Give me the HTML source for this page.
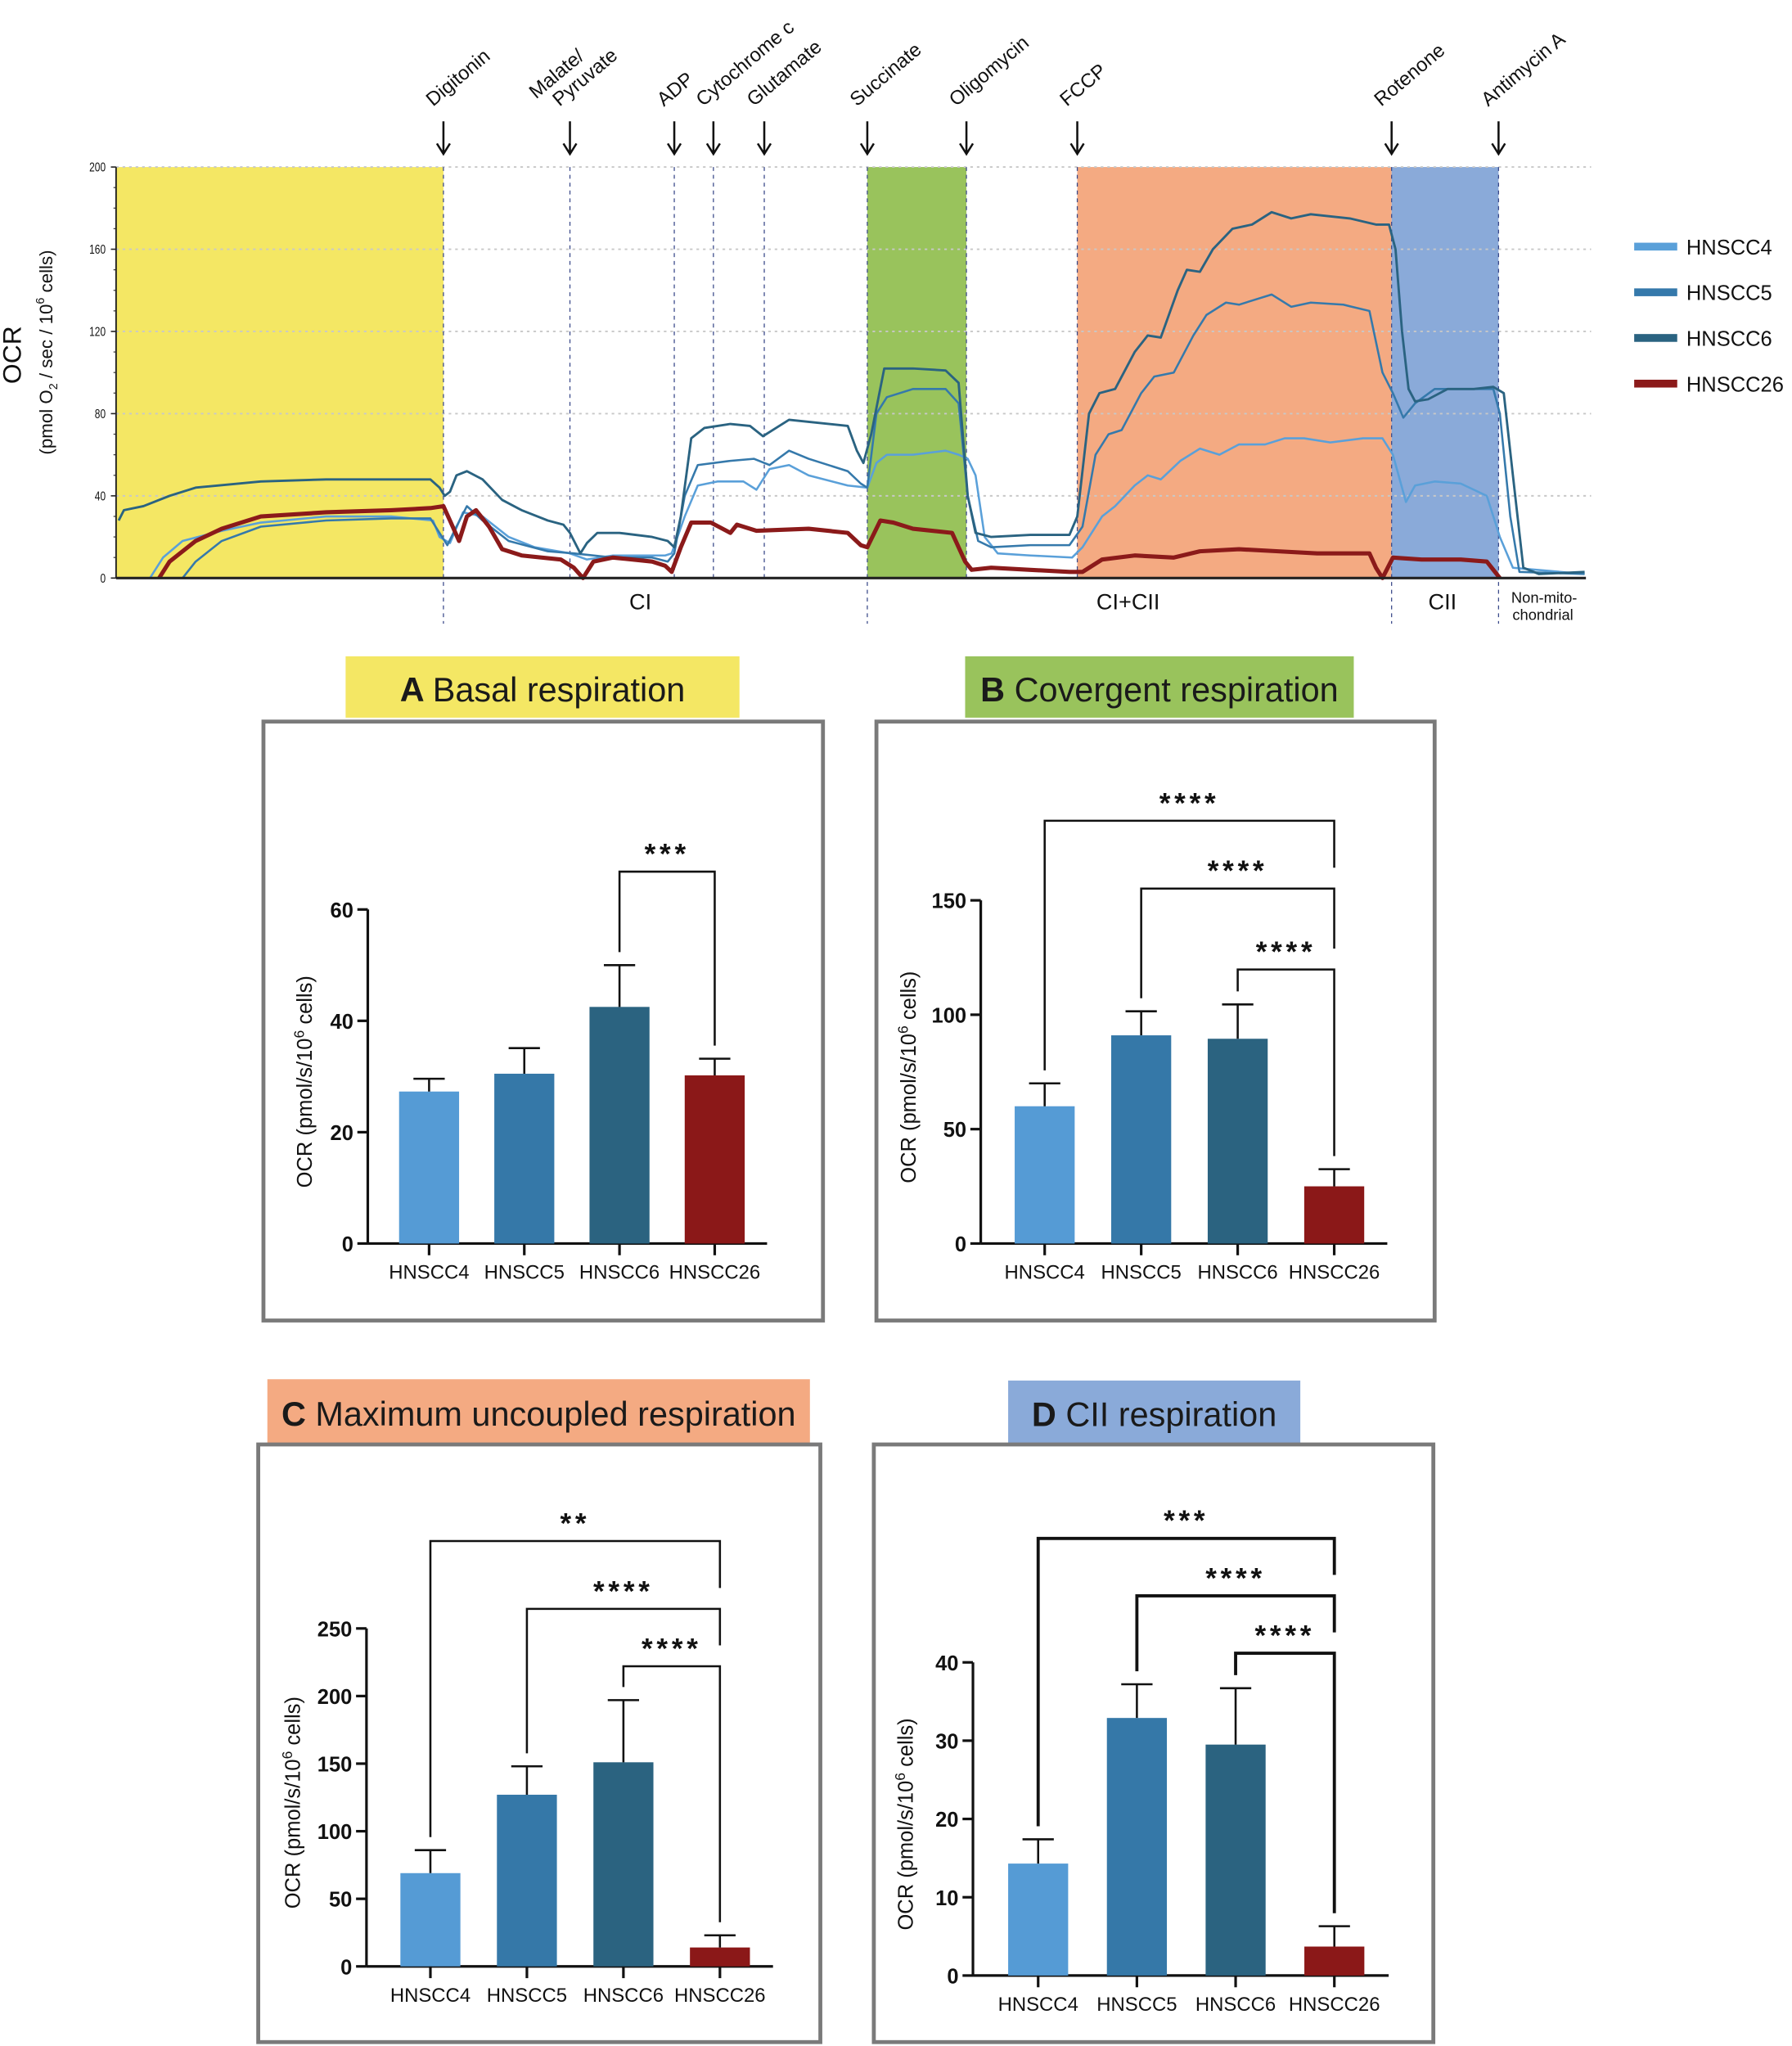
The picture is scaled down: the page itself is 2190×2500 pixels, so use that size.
<!DOCTYPE html>
<html><head><meta charset="utf-8">
<style>
html,body{margin:0;padding:0;background:#fff;}
svg{display:block;}
text{font-family:"Liberation Sans",sans-serif;}
</style></head>
<body>
<svg id="root" xmlns="http://www.w3.org/2000/svg" width="2190" height="2500" viewBox="0 0 1374 1568" preserveAspectRatio="none">
<g id="topchart"></g>
<g id="panels"></g>
</svg>
<script>
// ---------- TOP TRACE DATA ----------
const traceNames = ["HNSCC4","HNSCC5","HNSCC6","HNSCC26"];
const yTicksTop = [0,40,80,120,160,200];
const eventNames = ["Digitonin","Malate/\nPyruvate","ADP","Cytochrome c","Glutamate","Succinate","Oligomycin","FCCP","Rotenone","Antimycin A"];
const eventTimes = [340,437,517,547,586,665,741,826,1067,1149];
const bandStarts = [89,665,826,1067];
const bandEnds = [340,741,1067,1149];
const regionLabels = ["CI","CI+CII","CII"];
const regionTimes = [491,865,1106];

const t6 = [91,95,110,130,150,200,250,300,330,337,341,345,350,358,370,385,400,420,432,437,445,450,458,475,500,512,517,522,530,540,560,575,585,595,605,620,650,657,662,668,678,700,725,735,742,748,760,790,820,826,835,843,855,870,880,890,903,910,920,930,945,960,975,990,1005,1035,1055,1065,1070,1075,1080,1085,1095,1110,1130,1145,1153,1160,1168,1180,1215];
const v6 = [28,33,35,40,44,47,48,48,48,44,40,42,50,52,48,38,33,28,26,22,12,17,22,22,20,18,15,30,68,73,75,74,69,73,77,76,74,62,56,70,102,102,101,95,40,22,20,21,21,30,80,90,92,110,118,117,140,150,149,160,170,172,178,175,177,175,172,172,160,120,92,86,87,92,92,93,90,50,5,2,3];
const t5 = [140,150,170,200,250,300,330,337,343,350,358,370,390,420,440,470,500,512,517,525,535,560,578,590,605,620,650,660,665,672,680,700,725,735,742,750,760,790,820,830,840,850,860,875,885,900,915,925,940,950,965,975,990,1005,1030,1050,1060,1068,1076,1085,1100,1130,1145,1150,1158,1165,1215];
const v5 = [0,8,18,25,28,29,29,22,16,25,35,28,18,13,12,10,10,8,12,40,55,57,58,55,62,58,52,46,44,80,88,92,92,85,40,18,15,16,16,25,60,70,72,90,98,100,118,128,134,133,136,138,132,134,133,130,100,90,78,85,92,92,92,80,30,3,2];
const t4 = [115,125,140,170,200,250,300,332,337,345,355,370,390,410,437,450,470,510,515,525,535,550,570,580,590,605,620,650,665,672,680,700,725,735,742,748,755,765,790,822,830,845,855,870,880,890,905,920,935,950,970,985,1000,1020,1045,1060,1068,1078,1085,1100,1120,1140,1150,1160,1215];
const v4 = [0,10,18,23,27,30,30,28,20,17,32,30,20,15,12,9,11,11,12,30,45,47,47,43,53,55,50,45,44,56,60,60,62,60,58,50,20,12,11,10,15,30,35,45,50,48,57,63,60,65,65,68,68,66,68,68,60,37,45,47,46,40,20,5,2];
const t26 = [122,130,150,170,200,250,300,330,340,345,352,358,365,375,385,400,430,440,447,455,470,500,510,515,522,530,545,560,565,580,620,650,660,665,675,685,700,730,740,745,760,790,820,830,845,870,900,920,950,980,1010,1050,1055,1060,1068,1090,1120,1140,1145,1150];
const v26 = [0,8,18,24,30,32,33,34,35,28,18,30,33,25,14,11,9,5,0,8,10,8,6,3,15,27,27,22,26,23,24,22,16,15,28,27,24,22,8,4,5,4,3,3,9,11,10,13,14,13,12,12,5,0,10,9,9,8,4,0];

// ---------- BAR DATA ----------
const barCategories = ["HNSCC4","HNSCC5","HNSCC6","HNSCC26"];
const basalMean = [27.3,30.5,42.5,30.2];
const basalErr = [2.3,4.6,7.5,3.0];
const basalTicks = [0,20,40,60];
const basalSig = [[2,3,"***"]];
const convMean = [60,91,89.5,25];
const convErr = [10,10.5,15,7.5];
const convTicks = [0,50,100,150];
const convSig = [[0,3,"****"],[1,3,"****"],[2,3,"****"]];
const maxMean = [69,127,151,14];
const maxErr = [17,21,46,9];
const maxTicks = [0,50,100,150,200,250];
const maxSig = [[0,3,"**"],[1,3,"****"],[2,3,"****"]];
const ciiMean = [14.3,32.9,29.5,3.7];
const ciiErr = [3.1,4.3,7.2,2.6];
const ciiTicks = [0,10,20,30,40];
const ciiSig = [[0,3,"***"],[1,3,"****"],[2,3,"****"]];

const NS = "http://www.w3.org/2000/svg";
function mk(parent, tag, attrs, txt){
  const e = document.createElementNS(NS, tag);
  for (const k in attrs) e.setAttribute(k, attrs[k]);
  if (txt !== undefined) e.textContent = txt;
  parent.appendChild(e);
  return e;
}
const traceColors = ["#5aa0d9","#3579ab","#2a6381","#8b1a1a"];
const barColors = ["#559bd5","#3578a8","#2b6380","#8b1818"];

// ---------- TOP CHART ----------
const topG = document.getElementById('topchart');
const X0 = 89, X1 = 1216, Y0 = 443, Y1 = 128;
const xT = t => X0 + (t - 89) * (X1 - X0) / (1216 - 89);
const yT = v => Y0 - v * (Y0 - Y1) / 200;

bandStarts.forEach((s,i)=>{
  const fills = ["#f4e764","#99c35c","#f4aa82","#8aaad9"];
  const r = mk(topG,'rect',{x:xT(s),y:yT(200),width:xT(bandEnds[i])-xT(s),height:yT(0)-yT(200),fill:fills[i]});
  
  
});
yTicksTop.forEach(v=>{
  if (v>0){
    const g = mk(topG,'line',{x1:X0,x2:1220,y1:yT(v),y2:yT(v),stroke:"#c8c8c8","stroke-width":1.2,"stroke-dasharray":"2,3"});
    
    
  }
  const l = mk(topG,'text',{x:X0-8,y:yT(v)+3.5,"font-size":10,"text-anchor":"end",fill:"#111",transform:`translate(${X0-8},0) scale(0.75,1) translate(${-(X0-8)},0)`}, String(v));
  
  
  mk(topG,'line',{x1:X0-4,x2:X0,y1:yT(v),y2:yT(v),stroke:"#222","stroke-width":1});
});
for (let v=10; v<200; v+=10){ if (v%40) mk(topG,'line',{x1:X0-2,x2:X0,y1:yT(v),y2:yT(v),stroke:"#444","stroke-width":0.8}); }
mk(topG,'line',{x1:X0,x2:X0,y1:yT(200),y2:yT(0),stroke:"#222","stroke-width":1.2});

eventTimes.forEach((t,i)=>{
  const x = xT(t);
  const long = [0,5,8,9].includes(i);
  const d = mk(topG,'line',{x1:x,x2:x,y1:yT(200),y2:long?478:yT(0),stroke:"#3b4a8a","stroke-width":0.8,"stroke-dasharray":"3,3"});
  
  
  const a = mk(topG,'path',{d:`M${x},93 L${x},117 M${x-5},110 L${x},118 L${x+5},110`,stroke:"#111","stroke-width":1.6,fill:"none"});
  
  
  const lines = eventNames[i].split("\n");
  const tx = mk(topG,'text',{"font-size":15,fill:"#111",transform:`translate(${x-8},82) rotate(-40)`});
  
  
  lines.forEach((ln,j)=>{ mk(tx,'tspan',{x: 0, dy: j?16:-(lines.length-1)*16}, ln); });
  if (lines.length>1){ tx.firstChild.setAttribute('x',-10); tx.lastChild.setAttribute('x',0); }
});

[[0,traceColors[0],1.6],[1,traceColors[1],1.6],[2,traceColors[2],1.8],[3,traceColors[3],3.2]].forEach(([k,c,w])=>{
  const ts=[t4,t5,t6,t26][k], vs=[v4,v5,v6,v26][k];
  const d = ts.map((t,i)=>(i?'L':'M')+xT(t).toFixed(1)+','+yT(vs[i]).toFixed(1)).join(' ');
  const p = mk(topG,'path',{d:d,fill:"none",stroke:c,"stroke-width":w,"stroke-linejoin":"round"});
  
  
});
mk(topG,'line',{x1:X0,x2:X1,y1:yT(0),y2:yT(0),stroke:"#222","stroke-width":2});

regionLabels.forEach((r,i)=>{
  const t = mk(topG,'text',{x:xT(regionTimes[i]),y:467,"font-size":17,"text-anchor":"middle",fill:"#111"}, r);
  
  
});
const nm = mk(topG,'text',{x:1183,y:462,"font-size":11.5,"text-anchor":"middle",fill:"#111"});


mk(nm,'tspan',{x:1184,dy:0},"Non-mito-");
mk(nm,'tspan',{x:1183,dy:13},"chondrial");

const yt = mk(topG,'text',{"font-size":20,"text-anchor":"middle",fill:"#111",transform:"translate(16,272) rotate(-90)"},"OCR");


const ys = mk(topG,'text',{"font-size":14,"text-anchor":"middle",fill:"#111",transform:"translate(40,270) rotate(-90)"});


mk(ys,'tspan',{},"(pmol O");
mk(ys,'tspan',{"font-size":9,dy:4},"2");
mk(ys,'tspan',{dy:-4}," / sec / 10");
mk(ys,'tspan',{"font-size":9,dy:-6},"6");
mk(ys,'tspan',{dy:6}," cells)");

traceNames.forEach((n,i)=>{
  const y = 189 + i*35;
  const g = mk(topG,'g',{});
  
  
  mk(g,'rect',{x:1253,y:y-3,width:33,height:6,fill:traceColors[i]});
  mk(g,'text',{x:1293,y:y+6,"font-size":16,fill:"#111"},n);
});

// ---------- BAR PANELS ----------
const panels = document.getElementById('panels');
function panel(o){
  const g = mk(panels,'g',{});
  
  
  const tb = mk(g,'rect',{x:o.tx,y:o.ty,width:o.tw,height:o.th,fill:o.tc});
  
  
  const tt = mk(g,'text',{x:o.tx+o.tw/2,y:o.ty+o.th/2+11,"font-size":26,"text-anchor":"middle",fill:"#1a1a1a"});
  
  
  mk(tt,'tspan',{"font-weight":"bold"},o.letter+" ");
  mk(tt,'tspan',{},o.title);
  const bx = mk(g,'rect',{x:o.bx,y:o.by,width:o.bw,height:o.bh,fill:"none",stroke:"#7a7a7a","stroke-width":3});
  
  
  const ymax = o.ticks[o.ticks.length-1];
  const yS = v => o.y0 - v*(o.y0-o.yTop)/ymax;
  const xS = i => o.ax + o.first + i*o.step;
  mk(g,'line',{x1:o.ax,x2:o.ax,y1:o.yTop,y2:o.y0,stroke:"#111","stroke-width":2});
  mk(g,'line',{x1:o.ax,x2:xS(3)+o.step*0.55,y1:o.y0,y2:o.y0,stroke:"#111","stroke-width":2});
  o.ticks.forEach(v=>{
    mk(g,'line',{x1:o.ax-8,x2:o.ax,y1:yS(v),y2:yS(v),stroke:"#111","stroke-width":2});
    const l = mk(g,'text',{x:o.ax-11,y:yS(v)+6,"font-size":16,"font-weight":"bold","text-anchor":"end",fill:"#111"},String(v));
    
    
  });
  const at = mk(g,'text',{"font-size":16,"text-anchor":"middle",fill:"#111",transform:`translate(${o.ax-o.tOff},${(o.y0+o.yTop)/2+4}) rotate(-90)`});
  
  
  mk(at,'tspan',{},"OCR (pmol/s/10");
  mk(at,'tspan',{"font-size":11,dy:-6},"6");
  mk(at,'tspan',{dy:6}," cells)");
  const bw = 46;
  o.mean.forEach((m,i)=>{
    const x = xS(i);
    const b = mk(g,'rect',{x:x-bw/2,y:yS(m),width:bw,height:o.y0-yS(m),fill:barColors[i]});
    
    
    const e = mk(g,'path',{d:`M${x},${yS(m)} L${x},${yS(m+o.err[i])} M${x-12},${yS(m+o.err[i])} L${x+12},${yS(m+o.err[i])}`,stroke:"#111","stroke-width":1.6,fill:"none"});
    
    
    mk(g,'line',{x1:x,x2:x,y1:o.y0,y2:o.y0+9,stroke:"#111","stroke-width":2});
    const l = mk(g,'text',{x:x,y:o.y0+27,"font-size":15,"text-anchor":"middle",fill:"#111"},barCategories[i]);
    
    
  });
  o.sig.forEach((s,k)=>{
    const yb = o.brY[k];
    const x1 = xS(s[0]), x2 = xS(s[1]);
    const yl = yS(o.mean[s[0]]+o.err[s[0]]) - 10;
    const yr = k===o.sig.length-1 ? yS(o.mean[s[1]]+o.err[s[1]]) - 10 : o.brY[k+1]-16;
    const p = mk(g,'path',{d:`M${x1},${yl} L${x1},${yb} L${x2},${yb} L${x2},${yr}`,stroke:"#111","stroke-width":o.bs,fill:"none"});
    
    
    const t = mk(g,'text',{x:(x1+x2)/2,y:yb-6,"font-size":22,"font-weight":"bold","text-anchor":"middle",fill:"#111","letter-spacing":"3"},s[2]);
    
    
  });
}
panel({name:'panel-a-basal',letter:'A',title:'Basal respiration',tx:265,ty:503,tw:302,th:47,tc:'#f4e764',
  bx:202,by:553,bw:429,bh:459,ax:282,first:47,step:73,y0:953,yTop:697,ticks:basalTicks,mean:basalMean,err:basalErr,sig:basalSig,brY:[668],bs:1.6,tOff:43});
panel({name:'panel-b-convergent',letter:'B',title:'Covergent respiration',tx:740,ty:503,tw:298,th:47,tc:'#99c35c',
  bx:672,by:553,bw:428,bh:459,ax:752,first:49,step:74,y0:953,yTop:690,ticks:convTicks,mean:convMean,err:convErr,sig:convSig,brY:[629,681,743],bs:1.6,tOff:50});
panel({name:'panel-c-maximum',letter:'C',title:'Maximum uncoupled respiration',tx:205,ty:1057,tw:416,th:49,tc:'#f4aa82',
  bx:198,by:1107,bw:431,bh:458,ax:281,first:49,step:74,y0:1507,yTop:1248,ticks:maxTicks,mean:maxMean,err:maxErr,sig:maxSig,brY:[1181,1233,1277],bs:1.6,tOff:51});
panel({name:'panel-d-cii',letter:'D',title:'CII respiration',tx:773,ty:1058,tw:224,th:48,tc:'#8aaad9',
  bx:670,by:1107,bw:429,bh:458,ax:746,first:50,step:75.7,y0:1514,yTop:1274,ticks:ciiTicks,mean:ciiMean,err:ciiErr,sig:ciiSig,brY:[1179,1223,1267],bs:2.4,tOff:46});
</script>
</body></html>
